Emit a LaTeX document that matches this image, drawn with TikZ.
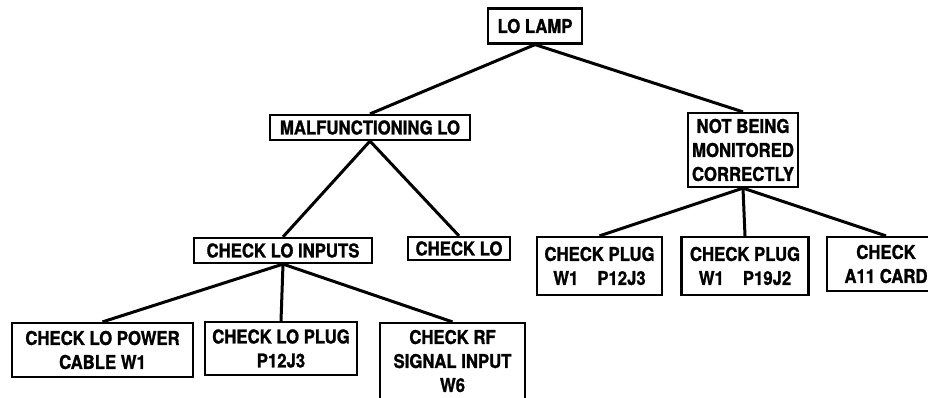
\documentclass[tikz,border=0pt]{standalone}
\usepackage{fontspec}
\setmainfont{TeX Gyre Heros}[BoldFeatures={FakeStretch=0.88, FakeBold=1.2}]
\usepackage{tikz}

\begin{document}
\begin{tikzpicture}[x=1pt, y=-1pt,
        box/.style={draw, line width=2.2pt, align=center, inner sep=0pt,
            font=\fontsize{19}{24}\selectfont\bfseries},
        link/.style={line width=3pt}]
        \useasboundingbox (0,0) rectangle (928,398);

        \node[box, minimum width=94pt, minimum height=35pt] (lamp) at (535,26) {LO LAMP};
        \node[box, minimum width=200pt, minimum height=25pt] (malf) at (370,127.5) {MALFUNCTIONING LO};
        \node[box, minimum width=110pt, minimum height=74pt] (notmon) at (743,150) {NOT BEING\\MONITORED\\CORRECTLY};

        \node[box, minimum width=178pt, minimum height=25pt] (inputs) at (283,250.5) {CHECK LO INPUTS};
        \node[box, minimum width=102pt, minimum height=23pt] (checklo) at (459,248.5) {CHECK LO};
        \node[box, minimum width=125pt, minimum height=58pt] (plugA) at (599.5,266) {CHECK PLUG\\W1\quad P12J3};
        \node[box, minimum width=127pt, minimum height=58pt] (plugB) at (745,266) {CHECK PLUG\\W1\quad P19J2};
        \node[box, minimum width=118pt, minimum height=54pt] (card) at (886,264) {CHECK\\A11 CARD};

        \node[box, minimum width=181pt, minimum height=54pt] (power) at (102.5,350) {CHECK LO POWER\\CABLE W1};
        \node[box, minimum width=152pt, minimum height=53pt] (plugLO) at (281,348.5) {CHECK LO PLUG\\P12J3};
        \node[box, minimum width=145pt, minimum height=76pt] (rf) at (452.5,361) {CHECK RF\\SIGNAL INPUT\\W6};

        \draw[link] (lamp.south) -- (malf.north);
        \draw[link] (lamp.south) -- (notmon.north);
        \draw[link] (malf.south) -- (inputs.north);
        \draw[link] (malf.south) -- (checklo.north);
        \draw[link] (notmon.south) -- (plugA.north);
        \draw[link] (notmon.south) -- (plugB.north);
        \draw[link] (notmon.south) -- (card.north);
        \draw[link] (inputs.south) -- (power.north);
        \draw[link] (inputs.south) -- (plugLO.north);
        \draw[link] (inputs.south) -- (rf.north);

    \end{tikzpicture}
\end{document}
